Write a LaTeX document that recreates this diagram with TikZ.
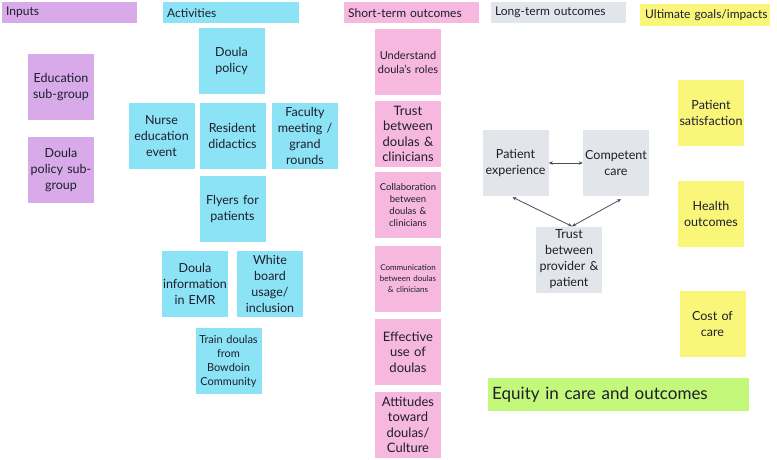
\documentclass[tikz,border=0pt]{standalone}
\usepackage{fontspec}
\setmainfont{Lato}
\usetikzlibrary{arrows.meta}
\definecolor{inputc}{HTML}{D8AAEA}
\definecolor{actc}{HTML}{8CE3F5}
\definecolor{shortc}{HTML}{F6B8DE}
\definecolor{longc}{HTML}{E2E5E9}
\definecolor{goalc}{HTML}{FAF67A}
\definecolor{equityc}{HTML}{C4F87A}
\definecolor{inkc}{HTML}{1E1E2C}
\tikzset{
  note/.style={minimum width=66, minimum height=66, text width=64, inner sep=1pt,
    align=center, text=inkc, font=\fontsize{12.5}{16}\selectfont},
  hdr/.style={anchor=north west, minimum height=21, inner xsep=4pt, inner ysep=0pt,
    align=left, text=inkc, font=\fontsize{12}{14}\selectfont},
  link/.style={{Stealth[length=4pt,width=3.5pt]}-{Stealth[length=4pt,width=3.5pt]}, line width=0.8pt, draw=inkc!80}
}
\begin{document}
\begin{tikzpicture}[x=1pt,y=-1pt]
\useasboundingbox (0,0) rectangle (777,459);
% column headers
\node[hdr, fill=inputc, text width=127] (inhdr) at (2,2) {Inputs};
\node[hdr, fill=actc, text width=128] (acthdr) at (163,2) {Activities};
\node[hdr, fill=shortc, text width=127] (shorthdr) at (344,2) {Short-term outcomes};
\node[hdr, fill=longc, text width=127] (longhdr) at (491,2) {Long-term outcomes};
\node[hdr, fill=goalc, text width=126, inner xsep=2pt, minimum height=22] (goalhdr) at (640,4) {\hspace*{3pt}Ultimate goals/impacts};
% inputs
\node[note, fill=inputc] (edu) at (61,87) {Education\\sub-group};
\node[note, fill=inputc] (dpsub) at (61,170) {Doula\\policy sub-\\group};
% activities
\node[note, fill=actc] (dpol) at (231.5,60.5) {Doula\\policy};
\node[note, fill=actc] (nurse) at (161.5,136) {Nurse\\education\\event};
\node[note, fill=actc] (resid) at (232.5,136) {Resident\\didactics};
\node[note, fill=actc] (fac) at (305,136) {Faculty\\meeting /\\grand\\rounds};
\node[note, fill=actc] (flyer) at (232.5,209) {Flyers for\\patients};
\node[note, fill=actc] (emr) at (195,283.5) {Doula\\information\\in EMR};
\node[note, fill=actc] (wboard) at (270,283.5) {White\\board\\usage/\\inclusion};
\node[note, fill=actc, font=\fontsize{11}{14}\selectfont] (train) at (228.5,361) {Train doulas\\from\\Bowdoin\\Community};
% short-term outcomes
\node[note, fill=shortc, font=\fontsize{11}{14}\selectfont] (under) at (408,62) {Understand\\doula's roles};
\node[note, fill=shortc, font=\fontsize{13}{15.5}\selectfont] (trustdc) at (408,134) {Trust\\between\\doulas \&\\clinicians};
\node[note, fill=shortc, font=\fontsize{9.5}{12.3}\selectfont] (collab) at (408,205) {Collaboration\\between\\doulas \&\\clinicians};
\node[note, fill=shortc, font=\fontsize{8}{11}\selectfont] (comm) at (408,279) {Communication\\between doulas\\\& clinicians};
\node[note, fill=shortc, font=\fontsize{13}{15.5}\selectfont] (effuse) at (408,352) {Effective\\use of\\doulas};
\node[note, fill=shortc, font=\fontsize{13}{15.5}\selectfont] (attit) at (408,425) {Attitudes\\toward\\doulas/\\Culture};
% long-term outcomes
\node[note, fill=longc] (pexp) at (515.5,163) {Patient\\experience};
\node[note, fill=longc] (ccare) at (616,163) {Competent\\care};
\node[note, fill=longc] (tprov) at (569,259.5) {Trust\\between\\provider \&\\patient};
% ultimate goals
\node[note, fill=goalc] (psat) at (711,113) {Patient\\satisfaction};
\node[note, fill=goalc] (hout) at (711,214) {Health\\outcomes};
\node[note, fill=goalc] (cost) at (712.5,323.5) {Cost of\\care};
\node[anchor=west, fill=equityc, minimum width=261, minimum height=33, text width=253, inner xsep=4pt,
  align=left, text=inkc, font=\fontsize{17}{20}\selectfont] (equity) at (488,394.5) {Equity in care and outcomes};
% links
\draw[link] (pexp) -- (ccare);
\draw[link] ([xshift=-3pt,yshift=-1pt]pexp.south) -- ([xshift=3pt]tprov.north);
\draw[link] ([xshift=5pt,yshift=-3pt]ccare.south) -- ([xshift=3pt]tprov.north);
\end{tikzpicture}
\end{document}
